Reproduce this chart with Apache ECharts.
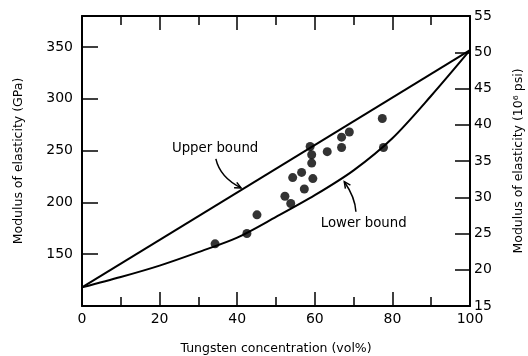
<!DOCTYPE html>
<html>
<head>
<meta charset="utf-8">
<script src="https://cdn.jsdelivr.net/npm/echarts@6/dist/echarts.min.js"></script>
<style>
html,body{margin:0;padding:0;background:#fff}
#main{width:528px;height:356px}
</style>
</head>
<body>
<div id="main"></div>
<script>
// left axis in GPa, right axis in 10^6 psi
var gpaMin = 100, gpaMax = 380;
var gpaTicks = [150, 200, 250, 300, 350];
var psiMin = 15, psiMax = 55;

// upper bound (straight line) and lower bound, tungsten vol% -> GPa
var upperBound = [[0, 118], [100, 347]];
var lowerBound = [[0, 118], [10, 128], [20, 139], [30, 152], [40, 166], [50, 186],
                  [60, 207], [70, 231], [80, 262], [90, 303], [100, 347]];

// measured values
var measured = [[34.3, 160], [42.5, 170], [45.1, 188], [52.3, 206], [53.8, 199],
                [54.3, 224], [56.6, 229], [57.3, 213], [58.8, 254], [59.2, 246],
                [59.2, 238], [59.5, 223], [63.2, 249], [66.9, 253], [66.9, 263],
                [68.9, 268], [77.4, 281], [77.7, 253]];

var font = 'DejaVu Sans';
var chart = echarts.init(document.getElementById('main'));

var frameLine = {show: true, onZero: false, lineStyle: {color: '#000', width: 2}};
var tickStyle = {color: '#000', width: 1.5};

chart.setOption({
    animation: false,
    backgroundColor: '#fff',
    grid: {left: 82, right: 58, top: 16, bottom: 50, containLabel: false, outerBoundsMode: 'none'},
    xAxis: [
        {
            type: 'value', min: 0, max: 100, interval: 20, position: 'bottom',
            name: 'Tungsten concentration (vol%)',
            nameLocation: 'middle', nameGap: 36,
            nameTextStyle: {fontFamily: font, fontSize: 12.5, color: '#000'},
            axisLine: frameLine,
            axisTick: {inside: true, length: 14, lineStyle: tickStyle},
            minorTick: {show: true, splitNumber: 2, length: 9, lineStyle: tickStyle},
            axisLabel: {fontFamily: font, fontSize: 14, color: '#000', margin: 6},
            splitLine: {show: false}
        },
        {
            type: 'value', min: 0, max: 100, interval: 20, position: 'top',
            axisLine: frameLine,
            axisTick: {inside: true, length: 14, lineStyle: tickStyle},
            minorTick: {show: true, splitNumber: 2, length: 9, lineStyle: tickStyle},
            axisLabel: {show: false},
            splitLine: {show: false}
        }
    ],
    yAxis: [
        {
            type: 'value', position: 'left', min: gpaMin, max: gpaMax,
            name: 'Modulus of elasticity (GPa)',
            nameLocation: 'middle', nameGap: 57, nameRotate: 90,
            nameTextStyle: {fontFamily: font, fontSize: 12.5, color: '#000'},
            axisLine: frameLine,
            axisTick: {show: true, inside: true, length: 16, customValues: gpaTicks, lineStyle: tickStyle},
            axisLabel: {customValues: gpaTicks, fontFamily: font, fontSize: 14, color: '#000', margin: 9},
            splitLine: {show: false}
        },
        {
            type: 'value', position: 'right', min: psiMin, max: psiMax, interval: 5,
            name: 'Modulus of elasticity (10\u2076 psi)',
            nameLocation: 'middle', nameGap: 42, nameRotate: 90,
            nameTextStyle: {fontFamily: font, fontSize: 12.5, color: '#000'},
            axisLine: frameLine,
            axisTick: {show: true, inside: true, length: 15, lineStyle: tickStyle},
            axisLabel: {fontFamily: font, fontSize: 14, color: '#000', margin: 4},
            splitLine: {show: false}
        }
    ],
    series: [
        {
            name: 'Upper bound', type: 'line', data: upperBound,
            symbol: 'none', lineStyle: {color: '#000', width: 2}
        },
        {
            name: 'Lower bound', type: 'line', data: lowerBound, smooth: 0.3,
            symbol: 'none', lineStyle: {color: '#000', width: 2}
        },
        {
            name: 'Measured', type: 'scatter', data: measured,
            symbol: 'circle', symbolSize: 9, itemStyle: {color: '#000'}
        }
    ]
});

// annotations: label text and curved arrows, placed in data coords
function px(p) { return chart.convertToPixel({xAxisIndex: 0, yAxisIndex: 0}, p); }

function arrow(from, ctrl, to) {
    var a = px(from), c = px(ctrl), b = px(to);
    var ang = Math.atan2(b[1] - c[1], b[0] - c[0]);
    var L = 7, w = 0.45;
    var h1 = [b[0] - L * Math.cos(ang - w), b[1] - L * Math.sin(ang - w)];
    var h2 = [b[0] - L * Math.cos(ang + w), b[1] - L * Math.sin(ang + w)];
    return [
        {type: 'bezierCurve', shape: {x1: a[0], y1: a[1], x2: b[0], y2: b[1], cpx1: c[0], cpy1: c[1]},
         style: {stroke: '#000', lineWidth: 1.5, fill: null}},
        {type: 'polyline', shape: {points: [h1, b, h2]},
         style: {stroke: '#000', lineWidth: 1.5, fill: null}}
    ];
}

function label(text, p) {
    var q = px(p);
    return {type: 'text', x: q[0], y: q[1],
            style: {text: text, fontFamily: font, fontSize: 13.3, fill: '#000',
                    align: 'center', verticalAlign: 'middle'}};
}

var g = [];
g.push(label('Upper bound', [34.3, 252]));
g = g.concat(arrow([34.5, 242], [35.6, 224], [41, 214]));
g.push(label('Lower bound', [72.6, 180]));
g = g.concat(arrow([70.6, 191], [70.4, 205], [67.6, 220]));
chart.setOption({graphic: g});
</script>
</body>
</html>
